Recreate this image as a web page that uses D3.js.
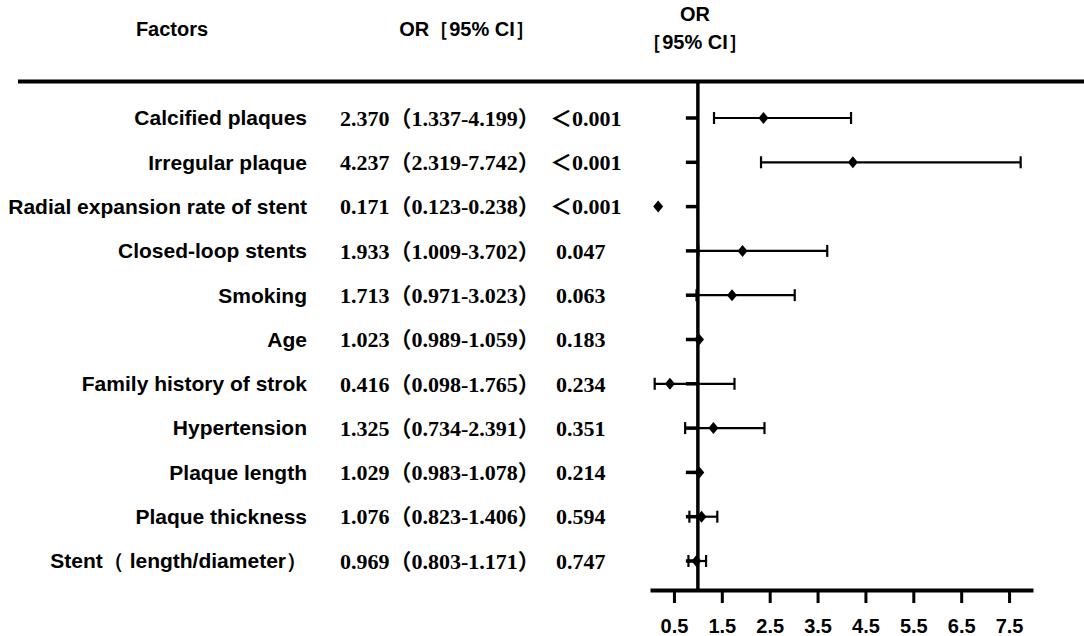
<!DOCTYPE html>
<html>
<head>
<meta charset="utf-8">
<script src="https://cdn.jsdelivr.net/npm/d3@7"></script>
<style>
  body { margin: 0; background: #fff; }
  svg { display: block; }
</style>
</head>
<body>
<svg id="forest" width="1084" height="636"></svg>
<script>
// Factors, odds ratios and CI
const factors = ['Calcified plaques', 'Irregular plaque', 'Radial expansion rate of stent',
  'Closed-loop stents', 'Smoking', 'Age', 'Family history of strok', 'Hypertension',
  'Plaque length', 'Plaque thickness', 'Stent\uFF08 length/diameter\uFF09'];
const orValues = [2.370, 4.237, 0.171, 1.933, 1.713, 1.023, 0.416, 1.325, 1.029, 1.076, 0.969];
const ciLow = [1.337, 2.319, 0.123, 1.009, 0.971, 0.989, 0.098, 0.734, 0.983, 0.823, 0.803];
const ciHigh = [4.199, 7.742, 0.238, 3.702, 3.023, 1.059, 1.765, 2.391, 1.078, 1.406, 1.171];
const pValues = ['\uFF1C0.001', '\uFF1C0.001', '\uFF1C0.001', '0.047', '0.063', '0.183',
  '0.234', '0.351', '0.214', '0.594', '0.747'];
const tickValues = [0.5, 1.5, 2.5, 3.5, 4.5, 5.5, 6.5, 7.5];

const svg = d3.select('#forest');
const sans = '"Liberation Sans", Arial, sans-serif';
const serif = '"Liberation Serif", "Times New Roman", "Noto Sans CJK SC", serif';

const x = d3.scaleLinear().domain([0, 8]).range([650, 1033]);
const y = d3.scalePoint().domain(factors).range([118, 561]);
const axisY = 590;
const diamondHalf = 5; // half width of the OR marker

// header
const headers = [
  { t: 'Factors', x: 172, y: 29 },
  { t: 'OR\uFF3B95% CI\uFF3D', x: 467, y: 29 },
  { t: 'OR', x: 695, y: 14 },
  { t: '\uFF3B95% CI\uFF3D', x: 695, y: 42 }
];
svg.append('g').selectAll('text')
  .data(headers)
  .join('text')
  .attr('x', d => d.x).attr('y', d => d.y).attr('dy', '0.35em')
  .attr('text-anchor', 'middle')
  .style('font', `bold 20px ${sans}`)
  .text(d => d.t);

// top rule
svg.append('line')
  .attr('x1', 18).attr('x2', 1084).attr('y1', 81.5).attr('y2', 81.5)
  .attr('stroke', '#000').attr('stroke-width', 4);

// text columns
const rows = svg.append('g').selectAll('g.row')
  .data(factors.map((f, i) => ({ f, or: orValues[i], lo: ciLow[i], hi: ciHigh[i], p: pValues[i] })))
  .join('g').attr('class', 'row');

rows.append('text')
  .attr('x', 307).attr('y', d => y(d.f)).attr('dy', '0.35em')
  .attr('text-anchor', 'end')
  .style('font', `bold 21px ${sans}`)
  .text(d => d.f);

rows.append('text')
  .attr('x', 340).attr('y', d => y(d.f)).attr('dy', '0.35em')
  .style('font', `bold 22px ${serif}`)
  .text(d => `${d.or.toFixed(3)}\uFF08${d.lo.toFixed(3)}-${d.hi.toFixed(3)}\uFF09`);

rows.append('text')
  .attr('x', d => d.p.startsWith('\uFF1C') ? 550 : 556).attr('y', d => y(d.f)).attr('dy', '0.35em')
  .style('font', `bold 22px ${serif}`)
  .text(d => d.p);

// reference line at OR = 1
svg.append('line')
  .attr('x1', x(1)).attr('x2', x(1)).attr('y1', 83).attr('y2', axisY)
  .attr('stroke', '#000').attr('stroke-width', 3.5);

// bottom axis
const axis = svg.append('g')
  .attr('transform', `translate(0,${axisY})`)
  .call(d3.axisBottom(x).tickValues(tickValues).tickSize(13).tickSizeOuter(0).tickPadding(16)
    .tickFormat(d3.format('.1f')));
axis.select('.domain').attr('stroke-width', 4);
axis.selectAll('.tick line').attr('stroke-width', 3);
axis.selectAll('.tick text').style('font', `bold 20px ${sans}`).attr('fill', '#000');

// plot rows
const marks = svg.append('g').selectAll('g.mark')
  .data(factors.map((f, i) => ({ f, or: orValues[i], lo: ciLow[i], hi: ciHigh[i] })))
  .join('g').attr('class', 'mark')
  .attr('transform', d => `translate(0,${y(d.f)})`);

marks.append('line')
  .attr('x1', x(1) - 12).attr('x2', x(1)).attr('y1', 0).attr('y2', 0)
  .attr('stroke', '#000').attr('stroke-width', 3.5);

// error bars are hidden behind the marker when the interval is narrower than it
const visibleCI = marks.filter(d => x(d.hi) - x(d.lo) > 2 * diamondHalf + 2);

visibleCI.append('line')
  .attr('x1', d => x(d.lo)).attr('x2', d => x(d.hi)).attr('y1', 0).attr('y2', 0)
  .attr('stroke', '#000').attr('stroke-width', 2.2);

visibleCI.selectAll('line.cap')
  .data(d => [d.lo, d.hi])
  .join('line').attr('class', 'cap')
  .attr('x1', v => x(v)).attr('x2', v => x(v)).attr('y1', -6).attr('y2', 6)
  .attr('stroke', '#000').attr('stroke-width', 2.2);

marks.append('path')
  .attr('d', `M0,-6L${diamondHalf},0L0,6L${-diamondHalf},0Z`)
  .attr('transform', d => `translate(${x(d.or)},0)`)
  .attr('fill', '#000');
</script>
</body>
</html>
